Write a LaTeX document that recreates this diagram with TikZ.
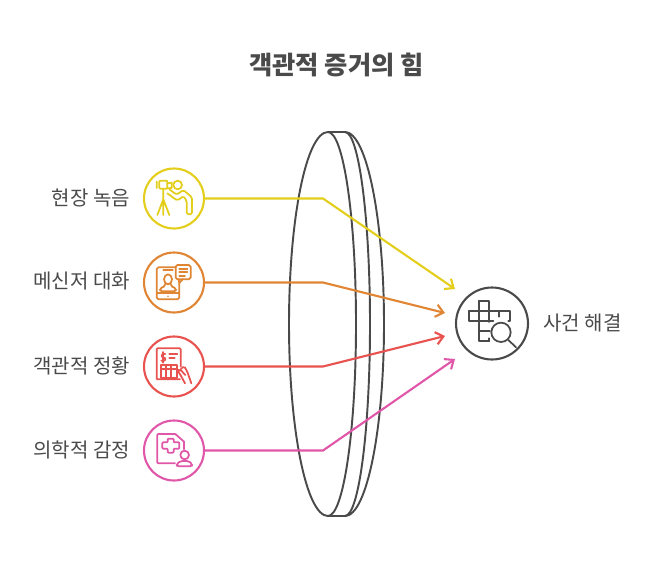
\documentclass[tikz,border=0pt]{standalone}
\usepackage{fontspec}
\setmainfont{Noto Sans CJK KR}
\usetikzlibrary{arrows.meta}
\definecolor{inkgrey}{HTML}{4A4A4A}
\definecolor{camyellow}{HTML}{E3CE1C}
\definecolor{chatorange}{HTML}{E08533}
\definecolor{scenered}{HTML}{E8534F}
\definecolor{medpink}{HTML}{E056A8}
\tikzset{
  rec/.style={circle,draw,line width=1.2pt,minimum size=1.2cm,inner sep=0pt},
  lab/.style={text=inkgrey,inner sep=0pt,font=\fontsize{11.4}{13}\selectfont},
  link/.style={line width=1.2pt,-{Straight Barb[length=1.5mm,width=2.5mm,line width=1.2pt]}},
  glyph/.style={line width=1pt,line join=round,line cap=round},
  zoomed/.style 2 args={shift={(#1,#2)},x=.00667cm,y=-.00667cm}
}
\begin{document}
\begin{tikzpicture}[x=.02cm,y=-.02cm]
  \useasboundingbox (0,0) rectangle (648,564);

  \node (title) at (336.5,65) [text=inkgrey,inner sep=0pt,font=\fontsize{14.4}{17}\selectfont\bfseries] {객관적 증거의 힘};

  % lens
  \draw [inkgrey,line width=1.1pt] (328,132) arc (-90:-270:39 and 192) arc (90:-90:28 and 192);
  \draw [inkgrey,line width=1.1pt] (328,132) -- (345,132) arc (-90:90:25 and 192) -- (328,516);
  \draw [inkgrey,line width=1.1pt] (345,132) arc (-90:90:39 and 192);

  % result
  \node [rec,draw=inkgrey,minimum size=1.44cm] (res) at (492,323.5) {};
  \node [lab,anchor=west] (reslab) at (543,323) {사건 해결};

  % sources
  \foreach \i/\col/\txt/\y/\tx/\ty in {1/camyellow/현장 녹음/198.5/455/289,
      2/chatorange/메신저 대화/282.5/445/313,
      3/scenered/객관적 정황/366.5/445/336,
      4/medpink/의학적 감정/450.5/455/359}
  {
    \node [rec,draw=\col] (rec\i) at (174,\y) {};
    \node [lab,anchor=east] (lab\i) at (130.5,\y-1) {\txt};
    \coordinate (knee\i) at (323,\y);
    \coordinate (tip\i) at (\tx,\ty);
    \draw [link,\col] (rec\i) -- (knee\i) -- (tip\i);
  }

  % telescope
  \begin{scope}[zoomed={130}{160},glyph,camyellow]
    \draw [rounded corners=.5pt] (88,62) rectangle (112,86);
    \draw (80,65) -- (80,84) (112,70) -- (125,68) -- (125,84) -- (112,85);
    \draw (100,86) -- (100,118) (100,118) -- (82,165) (100,118) -- (118,165) (100,118) -- (100,165);
    \draw (143,75) circle (13);
    \draw [rounded corners=1pt] (118,88) -- (140,104) -- (160,90) -- (186,112) -- (186,163) -- (170,163) -- (170,122) -- (160,108) -- (142,122) -- (112,100);
  \end{scope}

  % phone and bubble
  \begin{scope}[zoomed={130}{160},glyph,chatorange]
    \draw [rounded corners=1pt] (137,322) -- (80,322) -- (80,418) -- (148,418) -- (148,368);
    \draw (80,400) -- (148,400) (100,331) -- (128,331);
    \fill (114,409) circle (2.5);
    \draw (114,358) ellipse (12 and 15);
    \draw [rounded corners=1pt] (106,372) -- (106,378) -- (90,385) -- (90,394) -- (138,394) -- (138,385) -- (122,378) -- (122,372);
    \draw [rounded corners=1pt] (137,315) rectangle (182,358);
    \draw (146,358) -- (148,369) -- (158,358);
    \draw (148,327) -- (172,327) (148,337) -- (172,337) (148,347) -- (165,347);
  \end{scope}

  % report and hand
  \begin{scope}[zoomed={130}{330},glyph,scenered]
    \draw [rounded corners=.5pt] (152,110) -- (152,55) -- (80,55) -- (80,148) -- (150,148);
    \draw (106,72) .. controls (94,68) and (92,82) .. (100,82) .. controls (110,83) and (108,96) .. (94,92);
    \draw (100,66) -- (100,98);
    \draw (118,72) -- (142,72) (118,85) -- (134,85);
    \draw (92,105) rectangle (140,143);
    \draw (92,118) -- (140,118) (108,105) -- (108,143) (124,105) -- (124,143);
    \draw [rounded corners=1pt] (165,160) -- (150,132) -- (142,122) -- (150,118) -- (166,135);
    \draw [rounded corners=1pt] (184,160) -- (172,125) -- (162,108) -- (152,118);
  \end{scope}

  % medical file and patient
  \begin{scope}[zoomed={130}{330},glyph,medpink]
    \draw [rounded corners=.5pt] (135,400) -- (82,400) -- (82,312) -- (136,312);
    \draw (136,312) -- (162,335) -- (162,358);
    \draw [rounded corners=.5pt] (113,326) -- (131,326) -- (131,337) -- (148,337) -- (148,356) -- (131,356) -- (131,368) -- (113,368) -- (113,356) -- (97,356) -- (97,337) -- (113,337) -- cycle;
    \draw (164,375) circle (13);
    \draw [rounded corners=1pt] (140,409) -- (140,402) -- (152,393) -- (176,393) -- (186,402) -- (186,409) -- cycle;
  \end{scope}

  % crossword and lens
  \begin{scope}[zoomed={430}{270},glyph,inkgrey]
    \draw (147,92) -- (178,92) -- (178,156) (147,92) -- (147,212) -- (178,212);
    \draw (117,122) -- (240,122) -- (240,153) -- (235,153) (117,122) -- (117,153) -- (190,153);
    \draw (208,122) -- (208,140) (147,182) -- (180,182) (178,205) -- (178,212);
    \draw (213,187) circle (29);
    \draw (235,210) -- (258,232);
  \end{scope}
\end{tikzpicture}
\end{document}
